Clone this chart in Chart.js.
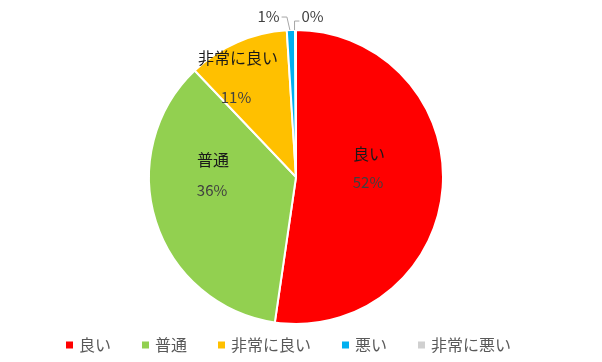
<!DOCTYPE html>
<html>
<head>
<meta charset="utf-8">
<script src="https://cdn.jsdelivr.net/npm/chart.js@4/dist/chart.umd.min.js"></script>
<style>
  html, body { margin: 0; padding: 0; background: #fff; }
  #wrap { width: 602px; height: 362px; }
</style>
</head>
<body>
<div id="wrap"><canvas id="pie"></canvas></div>
<script>
// ---- data ----
const categories = ['良い', '普通', '非常に良い', '悪い', '非常に悪い'];
const shares     = [52.3, 35.6, 11.1, 0.9, 0.1];
const colors     = ['#ff0000', '#92d050', '#ffc000', '#00b0f0', '#d0d0d0'];

// label placement, in units of the pie radius from its centre
const namePos = [[0.497, -0.156], [-0.565, -0.119], [-0.395, -0.81], null, null];
const pctPos  = [[0.49, 0.034], [-0.571, 0.088], [-0.408, -0.544], [-0.187, -1.095], [0.112, -1.095]];

const FONT = '"Noto Sans CJK JP", "Noto Sans", sans-serif';

// ── DATA LABELS ──
const labelPlugin = {
  id: 'pieLabels',
  afterDatasetsDraw(chart) {
    const ctx = chart.ctx;
    const meta = chart.getDatasetMeta(0);
    ctx.save();
    ctx.textAlign = 'center';
    ctx.textBaseline = 'middle';
    meta.data.forEach((arc, i) => {
      const { x, y, outerRadius: r, startAngle, endAngle } = arc.getProps(['x', 'y', 'outerRadius', 'startAngle', 'endAngle'], true);
      const pct = Math.round(shares[i]) + '%';
      if (namePos[i]) {
        ctx.font = '16px ' + FONT;
        ctx.fillStyle = '#1a1a1a';
        ctx.fillText(categories[i], x + namePos[i][0] * r, y + namePos[i][1] * r);
      }
      const px = x + pctPos[i][0] * r, py = y + pctPos[i][1] * r;
      ctx.font = '15px ' + FONT;
      ctx.fillStyle = '#404040';
      ctx.fillText(pct, px, py);

      // leader lines for the tiny slices
      if (!namePos[i]) {
        const mid = (startAngle + endAngle) / 2;
        const ex = x + Math.cos(mid) * r, ey = y + Math.sin(mid) * r;
        const w = ctx.measureText(pct).width;
        const left = px < ex;
        const sx = left ? px + w / 2 + 2 : px - w / 2 - 2;
        const sy = left ? py + 1 : py + 5;
        ctx.strokeStyle = '#a6a6a6';
        ctx.lineWidth = 1;
        ctx.beginPath();
        ctx.moveTo(sx, sy);
        ctx.lineTo(left ? ex - 4 : ex - 1, sy);
        ctx.lineTo(ex - 1, ey);
        ctx.stroke();
      }
    });
    ctx.restore();
  }
};

// ── LEGEND (bottom row) ──
const legendPlugin = {
  id: 'bottomLegend',
  afterDraw(chart) {
    const ctx = chart.ctx;
    ctx.save();
    ctx.font = '16px ' + FONT;
    ctx.textBaseline = 'middle';
    ctx.textAlign = 'left';
    let cx = 66;
    const cy = 345;
    categories.forEach((name, i) => {
      ctx.fillStyle = colors[i];
      ctx.fillRect(cx, cy - 3.5, 7, 7);
      ctx.fillStyle = '#595959';
      ctx.fillText(name, cx + 13, cy);
      cx += 13 + ctx.measureText(name).width + 31;
    });
    ctx.restore();
  }
};

new Chart(document.getElementById('pie'), {
  type: 'pie',
  data: {
    labels: categories,
    datasets: [{
      data: shares,
      backgroundColor: colors,
      borderColor: '#ffffff',
      borderWidth: 2,
      clip: false
    }]
  },
  options: {
    responsive: true, maintainAspectRatio: false,
    animation: false,
    radius: 147,
    layout: { padding: { top: 30, right: 10, left: 0, bottom: 38 } },
    plugins: {
      tooltip: { enabled: false },
      legend: { display: false }
    }
  },
  plugins: [labelPlugin, legendPlugin]
});
</script>
</body>
</html>
